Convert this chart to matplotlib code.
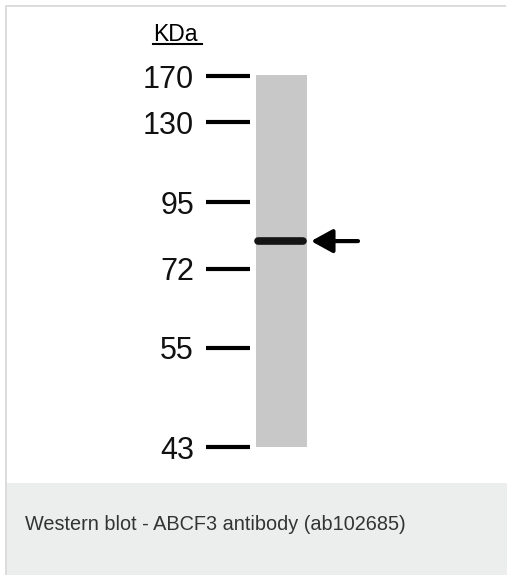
import matplotlib
matplotlib.use("Agg")
import matplotlib.pyplot as plt
from matplotlib.patches import Rectangle

# ladder (kDa) and relative migration down the lane (0 = top, 1 = bottom)
marker_kda = [170, 130, 95, 72, 55, 43]
marker_migration = [0.0, 0.124, 0.340, 0.520, 0.733, 1.0]
band_migration = 0.445
caption = "Western blot - ABCF3 antibody (ab102685)"

W, H = 507, 575
fig = plt.figure(figsize=(W / 100, H / 100), dpi=100)
fig.patch.set_facecolor("white")

# frame lines and caption box (figure pixels -> fraction)
fig.add_artist(Rectangle((5 / W, 0), 2 / W, 1 - 5 / H, transform=fig.transFigure,
                         color="#dcdcdc", lw=0))
fig.add_artist(Rectangle((5 / W, 1 - 7 / H), 501 / W, 2 / H, transform=fig.transFigure,
                         color="#dcdcdc", lw=0))
fig.add_artist(Rectangle((7 / W, 0), 1 - 7 / W, 92 / H, transform=fig.transFigure,
                         color="#eceeee", lw=0))
fig.text(25 / W, 1 - 525 / H, caption, fontsize=14.3, color="#333333",
         family=["Liberation Sans", "DejaVu Sans"], va="center", ha="left")

# blot axes: lane spans x 0..1 (51 px wide), migration 0..1 (371 px tall)
px = 51.0
py = 371.0
ax_l, ax_r, ax_t, ax_b = 120, 390, 15, 470
ax = fig.add_axes([ax_l / W, 1 - ax_b / H, (ax_r - ax_l) / W, (ax_b - ax_t) / H])
ax.set_xlim((ax_l - 256) / px, (ax_r - 256) / px)
ax.set_ylim((ax_b - 76) / py, (ax_t - 76) / py)
ax.axis("off")

ax.add_patch(Rectangle((0, -0.003), 1, 1.003, color="#c8c8c8", lw=0))
ax.plot([0.04, 0.92], [band_migration, band_migration], color="#151515",
        lw=5.5, solid_capstyle="round")

num_font = ["Liberation Sans", "DejaVu Sans"]
for kda, m in zip(marker_kda, marker_migration):
    ax.plot([-50 / px, -6 / px], [m, m], color="black", lw=3, solid_capstyle="butt")
    ax.text(-62 / px, m, str(kda), fontsize=22, family=num_font,
            ha="right", va="center_baseline", color="#111111")

ax.text(-103 / px, -42 / py, "KDa", fontsize=16.5,
        family=["Liberation Sans", "DejaVu Sans"], ha="left", va="center")
ax.plot([-103 / px, -54 / px], [-32 / py, -32 / py], color="black", lw=1.5)

ax.annotate("", xy=(1.08, band_migration), xytext=(2.0, band_migration),
            arrowprops=dict(arrowstyle="-|>,head_length=1.0,head_width=0.55",
                            mutation_scale=13, color="black", lw=3,
                            shrinkA=0, shrinkB=0))

fig.savefig("out.png", dpi=100)
